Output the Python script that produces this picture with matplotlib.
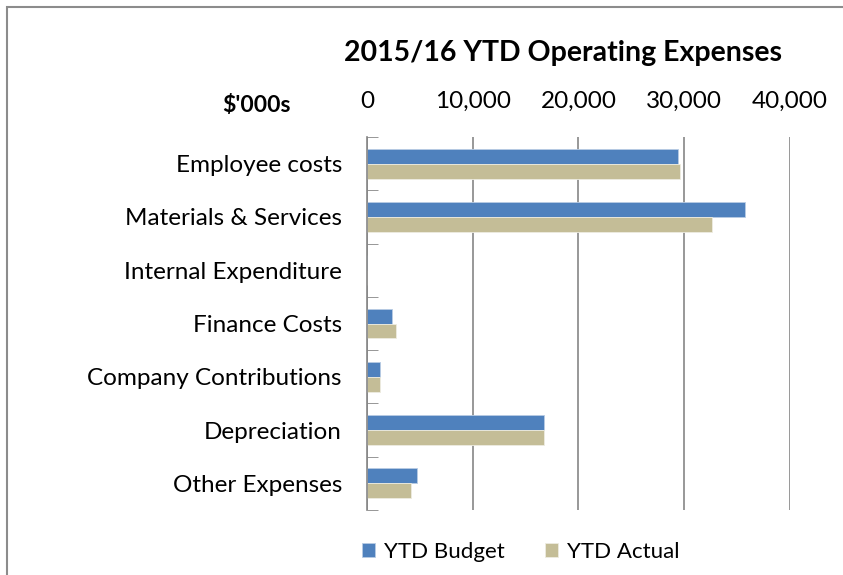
import numpy as np
import matplotlib.pyplot as plt
from matplotlib.patches import Rectangle

categories = ["Employee costs", "Materials & Services", "Internal Expenditure",
              "Finance Costs", "Company Contributions", "Depreciation", "Other Expenses"]
budget = [29400, 35700, 0, 2400, 1200, 16700, 4700]
actual = [29600, 32600, 0, 2700, 1200, 16700, 4200]
xticks = [0, 10000, 20000, 30000, 40000]

plt.rcParams['font.family'] = ['Lato', 'DejaVu Sans']

fig = plt.figure(figsize=(8.43, 5.75), dpi=100)
ax = fig.add_axes([0.4353, 0.113, 0.5018, 0.6487])

y = np.arange(len(categories))
h = 0.28
ax.barh(y - h / 2, budget, height=h, color="#4F81BD", edgecolor="#B8CCE4", linewidth=0.6, label="YTD Budget")
ax.barh(y + h / 2, actual, height=h, color="#C4BD97", edgecolor="#EEECE1", linewidth=0.6, label="YTD Actual")

ax.set_ylim(len(categories) - 0.5, -0.5)
ax.set_xlim(0, 40000)
ax.set_yticks(y)
ax.set_yticklabels(categories, fontsize=17.5)
ax.set_yticks(np.arange(len(categories) + 1) - 0.5, minor=True)
ax.tick_params(axis='y', which='major', length=0, pad=18)
ax.tick_params(axis='y', which='minor', direction='in', length=8, color='#868686')

ax.xaxis.tick_top()
ax.set_xticks(xticks)
ax.set_xticklabels([f"{v:,}" for v in xticks], fontsize=17.5)
ax.tick_params(axis='x', length=0, pad=18)
ax.grid(axis='x', color='#868686', linewidth=1.2)
ax.set_axisbelow(True)

for s in ['top', 'right', 'bottom']:
    ax.spines[s].set_visible(False)
ax.spines['left'].set_color('#868686')
ax.spines['left'].set_linewidth(1.2)

fig.text(0.668, 0.908, "2015/16 YTD Operating Expenses", fontsize=20.5, fontweight='bold', ha='center', va='center')
fig.text(0.304, 0.817, "$'000s", fontsize=16.5, fontweight='bold', ha='center', va='center')

fig.legend(loc='center', bbox_to_anchor=(0.618, 0.04), ncol=2, frameon=False, fontsize=16,
           handlelength=0.6, handleheight=0.6, handletextpad=0.4, columnspacing=1.8)

fig.patches.append(Rectangle((0.008, -0.1), 1.2, 1.088, transform=fig.transFigure,
                             fill=False, edgecolor='#8C8C8C', linewidth=1.5))

fig.savefig("out.png", dpi=100)
